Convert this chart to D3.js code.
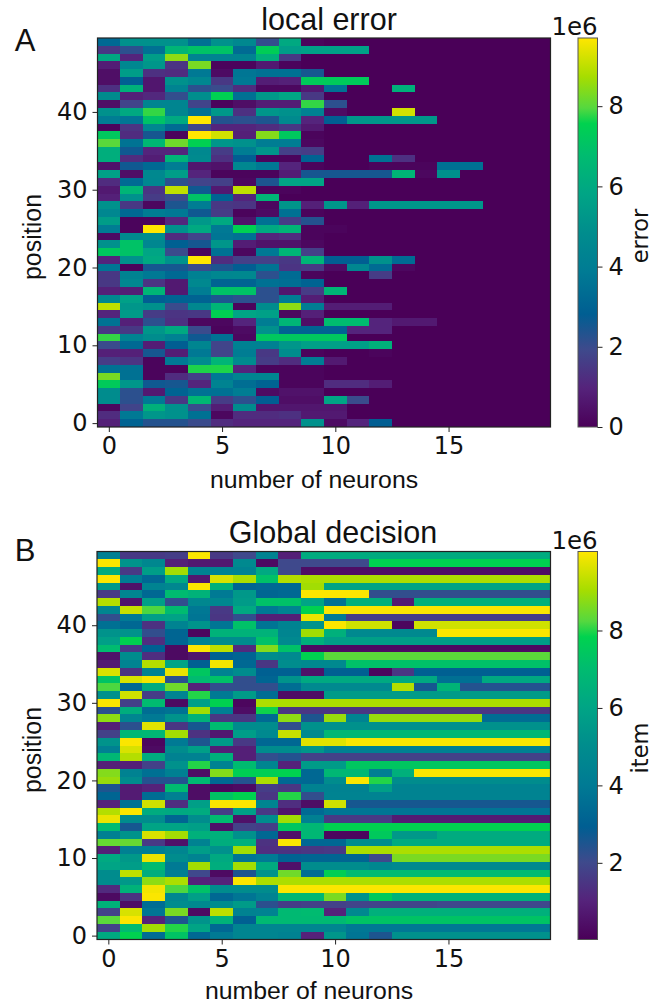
<!DOCTYPE html>
<html>
<head>
<meta charset="utf-8">
<script src="https://cdn.jsdelivr.net/npm/d3@7"></script>
<style>
  html, body { margin: 0; padding: 0; background: #fff; }
  svg { display: block; }
</style>
</head>
<body>
<div id="fig"></div>
<script>
// rows run from position 49 (top) down to position 0, units of 1e6
const errorRows = [
  [3.2,5,5,5,3.5,5,4.6,2.1,6,.1,0,0,0,0,0,0,0,0,0,0],
  [1.5,2.2,3.5,6.5,7,7,3.3,7.4,5.5,5.6,5.6,5.6,0,0,0,0,0,0,0,0],
  [6,1,5.5,8.5,4.3,4.3,4.3,6.3,1.5,0,0,0,0,0,0,0,0,0,0,0],
  [.8,4.5,5.2,1.4,8.3,.1,.1,.7,.1,0,0,0,0,0,0,0,0,0,0,0],
  [.4,5.5,1.3,1.2,3.8,.3,3.7,3.5,3.5,2.5,0,0,0,0,0,0,0,0,0,0],
  [.4,2.8,.6,5,4.5,1.5,3.8,.8,.9,7.3,7.3,7.3,0,0,0,0,0,0,0,0],
  [1.3,6.3,.6,4.3,2.2,2,1.2,.2,.2,.7,3.5,0,0,6.3,0,0,0,0,0,0],
  [4.8,.9,1.1,2.1,4.9,7.5,3.5,5.3,5.8,1.5,0,0,0,0,0,0,0,0,0,0],
  [.4,1.8,4.4,4.4,1.8,.1,.4,.8,.8,7.8,2.2,0,0,0,0,0,0,0,0,0],
  [5,6,7.8,4.4,3.5,5.3,1.3,5.2,5,4.2,.3,0,0,9.2,0,0,0,0,0,0],
  [4,3.7,7,6,9.7,2.3,2.2,2.4,4.7,1,2.8,5.2,5.2,5.2,5.2,0,0,0,0,0],
  [.1,1.4,4.5,3.3,1.8,1,1,1.2,1.5,.7,0,0,0,0,0,0,0,0,0,0],
  [7.2,1.2,2.5,.1,9.7,9.2,.9,8.4,7.2,.1,0,0,0,0,0,0,0,0,0,0],
  [8,3.6,6.6,8.2,7.5,5.2,5,4,4,.2,0,0,0,0,0,0,0,0,0,0],
  [6.2,2.6,1,1,4.6,1.6,4,5.2,1.7,1.6,0,0,0,0,0,0,0,0,0,0],
  [6.2,1.2,.8,6.4,4.7,1.3,2.8,.1,.1,3,0,0,3.5,1.3,0,0,0,0,0,0],
  [.5,2.6,3.2,4,.6,.5,4.5,3.8,1,.1,0,0,.1,.1,.1,3.5,3.5,0,0,0],
  [5.6,.4,4.6,5.5,1,.1,.1,.1,.8,2.5,2.5,2.5,2.5,6.5,.2,5,0,0,0,0],
  [1.2,3.3,4.5,2.2,1.8,1.7,.2,2.4,5.8,5.8,0,0,0,0,0,0,0,0,0,0],
  [.7,6.5,1.4,9,2.6,.7,9,.1,.1,0,0,0,0,0,0,0,0,0,0,0],
  [.9,5,1.6,2,7,3,1,6.5,0,0,0,0,0,0,0,0,0,0,0,0],
  [5,1.5,.2,2.4,4,1.5,1.4,.2,5.2,.9,5.2,.9,5.2,5.2,5.2,5.2,5.2,0,0,0],
  [4.5,3.2,4,3.8,2.6,1.6,.1,.3,3.5,.1,0,0,0,0,0,0,0,0,0,0],
  [5.5,.1,.1,1.1,5.3,6,.5,3.5,1.6,2.3,0,0,0,0,0,0,0,0,0,0],
  [4,.1,9.7,5,6,3.8,7.5,6,6.5,.1,.1,0,0,0,0,0,0,0,0,0],
  [.3,4.7,4.8,1.2,1.8,3.7,3.5,1,1.2,.1,0,0,0,0,0,0,0,0,0,0],
  [5,7,4.5,2.9,2.5,5.2,.8,.5,.5,.2,0,0,0,0,0,0,0,0,0,0],
  [7.2,7,5.8,2,.1,3.5,.2,3.8,6.5,1.7,0,0,0,0,0,0,0,0,0,0],
  [1,5,6,5,9.7,1.2,1.7,1.7,1.5,6.5,2.8,2.8,5,3.3,0,0,0,0,0,0],
  [3.7,.1,2.5,2.5,2,2.4,2.8,3.6,1.4,1.5,.3,4.5,3.3,.2,0,0,0,0,0,0],
  [1.5,4.3,3.8,3.2,4.2,4.5,4.6,2.2,3.3,.1,0,0,1.6,0,0,0,0,0,0,0],
  [1.5,4.5,1.4,.7,4.6,3,3,3.5,3.4,3,0,0,0,0,0,0,0,0,0,0],
  [.9,.8,6.5,.7,4,7,7,2.2,.6,1.6,6.5,0,0,0,0,0,0,0,0,0],
  [4.6,5.6,2.8,3,3,2.4,2.2,2.2,4,.8,0,0,0,0,0,0,0,0,0,0],
  [9,5.2,5,2,4.6,6.5,.1,4.8,8.5,4,.8,.8,.8,0,0,0,0,0,0,0],
  [1,5.4,1.6,1.4,1.5,7.5,5.8,5.6,.2,.9,0,0,0,0,0,0,0,0,0,0],
  [3.6,.9,2.2,1.3,.2,.2,1,4,6.5,.4,6.8,6.8,1,.7,.7,0,0,0,0,0],
  [1.5,1.5,5.2,6,2,.1,.3,5,3,3,3,1,1,0,0,0,0,0,0,0],
  [7.8,4.3,4.8,4.2,2.6,3.5,.2,7.2,7.2,7.2,7.2,0,0,0,0,0,0,0,0,0],
  [2,3.2,.8,2.8,4.4,1.8,4.2,4.2,5.2,5.6,5.6,5.6,6.3,0,0,0,0,0,0,0],
  [.9,.9,2.5,.8,3.8,1.8,4,1.5,4.8,.1,0,0,.1,0,0,0,0,0,0,0],
  [1.6,1.4,.1,3.8,4.8,6.5,4.7,1.6,1.2,4,.7,0,0,0,0,0,0,0,0,0],
  [3.5,3.5,.1,.1,7.7,7.7,1,.1,.1,.1,0,0,0,0,0,0,0,0,0,0],
  [8.3,3.5,.1,1.2,1.7,3.8,4.4,4.4,.1,.1,0,0,0,0,0,0,0,0,0,0],
  [7.3,5.2,2.6,2.5,1,4.3,3.4,3,.1,.1,1.2,1.2,.8,0,0,0,0,0,0,0],
  [4.8,2.2,.7,3,3.5,3.5,4,.3,.5,.5,0,0,0,0,0,0,0,0,0,0],
  [4.8,2.2,3.8,1.5,6.6,1.6,2.2,2.8,.4,.4,5.8,2,0,0,0,0,0,0,0,0],
  [.2,1.8,6.3,5,2,.8,4.8,.6,.6,.6,.6,0,0,0,0,0,0,0,0,0],
  [1.2,3.8,5.2,5,3.5,.2,1.2,1.2,1.3,.7,.7,0,0,0,0,0,0,0,0,0],
  [.9,3,2.3,2.3,2,1.2,1,1,1,5,.3,1,2.8,0,0,0,0,0,0,0]
];

const itemRows = [
  [4.3,1.6,1.6,1.7,10,1.6,2,4.5,.9,6.3,6.3,6.3,6.3,6.3,6.3,6.3,6.3,6.3,6.3,6.3],
  [10,5.3,4.7,.9,.7,.7,4.8,.3,2,2,2,2,7.8,7.8,7.8,7.8,7.8,7.8,7.8,7.8],
  [6.3,1.6,5.7,9,4.5,4.5,4.5,6.2,2,.4,.4,.4,.4,.4,.4,.4,.4,.4,.4,.4],
  [10,4.1,3.3,6.2,.7,9.6,9.1,7.2,9.2,9.1,9.1,9.1,9.1,9.1,9.1,9.1,9.1,9.1,9.1,9.1],
  [5.5,.5,4.5,4.7,10,6.5,3.2,3.3,3.3,9,6,6,6,6,6,6,6,6,6,6],
  [1.6,4.6,3.3,7,6.6,4,5.5,3.2,3.3,10,10,10,2.2,2.2,2.2,2.2,2.2,2.2,2.2,2.2],
  [9.2,.6,5.8,2.2,4.7,4.7,5.6,7.2,7.2,6,3.7,6.5,6.5,.8,6.5,6.5,6.5,6.5,6.5,6.5],
  [4.6,9.4,8.2,7,3.9,1.6,6.2,3.9,4.5,7.8,10,10,10,10,10,10,10,10,10,10],
  [2.2,4,5.8,5.9,3.8,1.5,2.2,.9,.9,9.8,4,1.7,1.7,1.7,1.7,1.7,1.7,1.7,1.7,1.7],
  [3.6,3.3,1.4,4.5,5.3,3.8,7.2,3.8,4.5,5.3,10,9.5,9.5,.2,9.5,9.5,9.5,9.5,9.5,9.5],
  [5.3,5.3,2.2,3.2,.2,6.6,6.6,6.6,4.6,9,6.5,4.8,4.8,4.8,4.8,10,10,10,10,10],
  [5.8,7.8,1.3,3.2,4.5,5,5,7.2,4.8,6.5,5.8,5.8,5.8,5.8,5.8,5.8,5.8,5.8,5.8,5.8],
  [7,1.6,3,.3,10,9.3,1.2,8.7,7.2,.3,.3,.3,.3,.3,.3,.3,.3,.3,.3,.3],
  [.5,5,1.3,.3,.6,3,3.2,5,4.8,7.8,8.3,8.3,8.3,8.3,8.3,8.3,8.3,8.3,8.3,8.3],
  [.8,4.5,9.2,6,3,9.9,3.3,1.5,5,4.8,4.8,7.2,7.2,7.2,7.2,7.2,7.2,7.2,7.2,7.2],
  [9.6,1.4,4.4,9.8,7.4,4.4,5,3,3,.5,3,3,.2,1.5,3,3,3,3,3,3],
  [7.3,9.6,9.9,2.3,7,7.2,2.2,3.2,5.3,6.2,6.2,6.2,6.2,6.2,6.2,3.6,3.6,6.2,6.2,6.2],
  [8.2,3.3,6.3,8.5,1,2.2,2.2,2.2,3.5,4.8,4.8,4.8,4.8,9.2,2.6,6.7,2.4,2.4,2.4,2.4],
  [5.2,9.5,1.7,4.5,8,4,5.6,3.5,.4,.4,5.6,5.6,5.6,5.6,5.6,5.6,5.6,5.6,5.6,5.6],
  [10,1.8,7,.3,5.8,7.8,.2,9.1,9.1,9.1,9.1,9.1,9.1,9.1,9.1,9.1,9.1,9.1,9.1,9.1],
  [2.3,6.4,3.5,3.7,9,4.2,.4,7.9,1.5,1.5,1.5,1.5,1.5,1.5,1.5,1.5,1.5,1.5,1.5,1.5],
  [8.8,4.6,4,5.3,6.6,1.5,1.5,3.4,8.8,2.5,8.9,4.5,8.9,8.9,8.9,8.9,8.9,3.5,3.5,3.5],
  [.9,2.3,9.7,1.5,2.6,7,5,5,2.2,5.2,5.2,5.2,5.2,5.2,5.2,5.2,5.2,5.2,5.2,5.2],
  [1.8,6.8,6.8,9,1.4,.7,5.7,4.8,9.4,4.8,6.8,6.8,6.8,6.8,6.8,6.8,6.8,6.8,6.8,6.8],
  [5.3,10,.2,4,2.5,5.6,1.6,3.3,3.3,9.7,9.7,10,10,10,10,10,10,10,10,10],
  [4.3,9.6,.3,5,5.8,.9,.9,5,5,5.4,4.3,4.3,4.3,4.3,4.3,4.3,4.3,4.3,4.3,4.3],
  [6.8,9.2,6.3,4.4,4.4,6.5,.9,2.2,2.4,1.8,1.8,1.8,1.8,1.8,1.8,1.8,1.8,1.8,1.8,1.8],
  [.9,.9,1.8,5.2,8,4.4,7,4.6,1,5.6,5.6,7.4,7.4,7.4,7.4,7.4,7.4,7.4,7.4,7.4],
  [8.7,4.4,3.6,4.3,.4,8.7,7.7,7.7,7.8,3.3,6.8,6.8,4.2,6.5,10,10,10,10,10,10],
  [8.9,5,2.4,2.4,6.9,3.3,2.4,9.1,3.3,3.3,5,10,8,5,5,5,5,5,5,5],
  [2.5,.8,1,7,.4,.2,.3,1.7,1.5,4.4,4.4,4.4,5.8,4.5,4.5,4.5,4.5,4.5,4.5,4.5],
  [3.2,.8,3.5,4.3,.4,7.3,7.8,1.5,8,2.2,4.5,4.5,4.5,4.5,4.5,4.5,4.5,4.5,4.5,4.5],
  [1,3.7,9.5,1.3,5.8,10,10,4.6,1.3,.4,9.5,2.6,2.6,2.6,2.6,2.6,2.6,2.6,2.6,2.6],
  [9.2,10,6.3,6.2,6.3,1.7,5.8,1.6,.6,3.4,3.8,3.8,3.8,3.8,3.8,3.8,3.8,3.8,3.8,3.8],
  [9.8,5,5,3.2,5,7,.5,5,9,4.3,1.6,1.6,1.6,.8,.8,.8,.8,.8,.8,.8],
  [7,2.6,6,6,5.8,.5,1.8,1.7,7.4,6.8,7.8,7.8,7.8,7.8,7.8,7.8,7.8,7.8,7.8,7.8],
  [4.3,5.3,9.6,9,6.5,6.5,5.2,3.3,.5,6.8,.2,.2,7.5,5.5,5.5,6.3,6.3,6.3,6.3,6.3],
  [8.4,8.4,1.6,.5,4.4,6.4,6.5,1.4,10,3.3,3.3,5,5,6.3,6.3,6.3,6.3,6.3,6.3,6.3],
  [.9,4.3,4.2,4.6,5.7,5.2,9,1.3,1.4,1.5,1.6,9.1,9.1,9.1,9.1,9.1,9.1,9.1,9.1,9.1],
  [6.2,5.5,9.8,5,4.5,6.2,3.8,4,3.1,3.2,3.2,3.2,2,8.6,8.6,8.6,8.6,8.6,8.6,8.6],
  [6,5.7,7,4,9,6.4,9,6.3,.5,5,5,5,4.7,4.8,4.8,4.8,4.8,4.8,4.8,4.8],
  [5,9.3,6.4,4.2,2,.3,2.5,5.3,8.5,3.5,7.7,7,7,7,7,7,7,7,7,7],
  [5,5.5,8.8,9.1,1,1,10,9.1,9.1,9.1,9.1,9.1,9.1,9.1,9.1,9.1,9.1,9.1,9.1,9.1],
  [1.2,6.6,9.9,8.2,7.2,5,5,5,10,10,10,10,10,10,10,10,10,10,10,10],
  [.3,1.4,10,4.7,5.8,3.3,3.8,4.4,6.8,6.8,8.6,5.2,7.5,6.6,6.6,6.6,6.6,6.6,6.6,6.6],
  [6.6,.4,3.5,5,4.8,5,5.6,2.3,1.7,1.8,1.8,1.9,1.9,1.9,1.9,2,2,2,2,2],
  [1.8,9.6,3.8,8.6,.3,9.3,4.4,4.5,6.9,7,1,4.8,6.5,6.5,6.5,6.5,6.5,6.5,6.5,6.5],
  [8.3,10,1,2.5,5.3,6.6,3,6.9,6.9,6.9,6.9,7.3,7.3,7.3,7.3,7.3,7.3,7.3,7.3,7.3],
  [1.8,7,9,8,6,3.3,4.6,4.6,4.6,4.6,4.6,3.9,3.9,3.9,3.9,3.9,3.9,3.9,3.9,3.9],
  [6.2,7.8,3.5,7.3,3.3,4,4.6,4.6,4.4,1,5.4,3.8,2.5,5.2,5.2,5.2,5.2,5.2,5.2,5.2]
];

const xTicks = [0, 5, 10, 15];
const yTicks = [0, 10, 20, 30, 40];
const errorBarTicks = [0, 2, 4, 6, 8];
const itemBarTicks = [2, 4, 6, 8];

// viridis as it comes out in the reference, which went through a colour conversion
const cmapPos = [0, .1, .2, .29, .4, .5, .6, .7, .78, .82, .9, 1];
const cmapCol = ["#4a0058", "#55237b", "#3e4a8c", "#005e92", "#007b94", "#008d8d",
                 "#00a585", "#00bc6f", "#00d24f", "#55d83f", "#a6dd00", "#ffe600"];
const cmap = d3.scaleLinear().domain(cmapPos).range(cmapCol);

const fig = { width: 666, height: 1003 };
const sansArial = '"Liberation Sans", Arial, sans-serif';
const sansDejavu = '"DejaVu Sans", sans-serif';

const svg = d3.select("#fig").append("svg")
  .attr("width", fig.width)
  .attr("height", fig.height);

const defs = svg.append("defs");

function addText(x, y, str, size, family, rotate) {
  const t = svg.append("text")
    .attr("font-family", family)
    .attr("font-size", size)
    .attr("fill", "#111")
    .attr("text-anchor", "middle")
    .text(str);
  if (rotate) t.attr("transform", `translate(${x},${y})rotate(-90)`);
  else t.attr("x", x).attr("y", y);
  return t;
}

function panel(p) {
  const g = svg.append("g");
  const x = d3.scaleLinear().domain([-.5, 19.5]).range([p.left, p.right]);
  const y = d3.scaleLinear().domain([-.5, 49.5]).range([p.bottom, p.top]);
  const norm = d3.scaleLinear().domain(p.domain).range([0, 1]).clamp(true);

  p.rows.forEach((row, i) => {
    const pos = 49 - i;
    g.selectAll(null)
      .data(row)
      .enter()
      .append("rect")
        .attr("x", (d, c) => x(c - .5))
        .attr("y", y(pos + .5))
        .attr("width", (d, c) => x(c + .5) - x(c - .5))
        .attr("height", y(pos - .5) - y(pos + .5))
        .attr("shape-rendering", "crispEdges")
        .attr("fill", d => cmap(norm(d)));
  });

  const xAxis = g.append("g")
    .attr("transform", `translate(0,${p.bottom})`)
    .call(d3.axisBottom(x).tickValues(xTicks).tickSize(5).tickPadding(5).tickFormat(d3.format("d")));
  const yAxis = g.append("g")
    .attr("transform", `translate(${p.left},0)`)
    .call(d3.axisLeft(y).tickValues(yTicks).tickSize(5).tickPadding(5).tickFormat(d3.format("d")));
  [xAxis, yAxis].forEach(a => {
    a.select(".domain").remove();
    a.selectAll("text").attr("font-size", 24).attr("font-family", sansDejavu).attr("fill", "#111");
    a.selectAll("line").attr("stroke", "#222");
  });

  g.append("rect")
    .attr("x", p.left).attr("y", p.top)
    .attr("width", p.right - p.left).attr("height", p.bottom - p.top)
    .attr("fill", "none").attr("stroke", "#222").attr("stroke-width", 1.2);

  // colour bar
  const grad = defs.append("linearGradient")
    .attr("id", p.id).attr("x1", 0).attr("y1", 1).attr("x2", 0).attr("y2", 0);
  cmapPos.forEach((o, i) => grad.append("stop").attr("offset", o).attr("stop-color", cmapCol[i]));

  const cy = d3.scaleLinear().domain(p.domain).range([p.bottom, p.top]);
  g.append("rect")
    .attr("x", p.barLeft).attr("y", p.top)
    .attr("width", p.barRight - p.barLeft).attr("height", p.bottom - p.top)
    .attr("fill", `url(#${p.id})`)
    .attr("stroke", "#555").attr("stroke-width", 1);
  const barAxis = g.append("g")
    .attr("transform", `translate(${p.barRight},0)`)
    .call(d3.axisRight(cy).tickValues(p.barTicks).tickSize(5).tickPadding(6).tickFormat(d3.format("d")));
  barAxis.select(".domain").remove();
  barAxis.selectAll("text").attr("font-size", 24).attr("font-family", sansDejavu).attr("fill", "#111");
  barAxis.selectAll("line").attr("stroke", "#222");

  addText(p.barRight - 23, p.top - 3, "1e6", 24.5, sansDejavu);
  addText(p.barLabelX, p.barLabelY, p.barLabel, 22.5, sansDejavu, true);

  addText(p.titleX, p.top - 8.5, p.title, 30.5, sansArial);
  addText(p.xLabelX, p.xLabelY, "number of neurons", 24.8, sansArial);
  addText(41, p.yLabelY, "position", 25, sansArial, true);
  addText(25, p.letterY, p.letter, 31, sansArial);
}

panel({
  id: "barA", rows: errorRows, domain: [0, 9.7],
  left: 97.5, right: 550.5, top: 38, bottom: 427,
  barLeft: 578, barRight: 597.5, barTicks: errorBarTicks,
  barLabel: "error", barLabelX: 648, barLabelY: 236,
  title: "local error", titleX: 329, xLabelX: 314, xLabelY: 488, yLabelY: 237,
  letter: "A", letterY: 51
});

panel({
  id: "barB", rows: itemRows, domain: [.02, 10.04],
  left: 97, right: 550.5, top: 551.5, bottom: 939.5,
  barLeft: 578, barRight: 597.5, barTicks: itemBarTicks,
  barLabel: "item", barLabelX: 648, barLabelY: 748,
  title: "Global decision", titleX: 333, xLabelX: 309, xLabelY: 999, yLabelY: 750,
  letter: "B", letterY: 561
});
</script>
</body>
</html>
